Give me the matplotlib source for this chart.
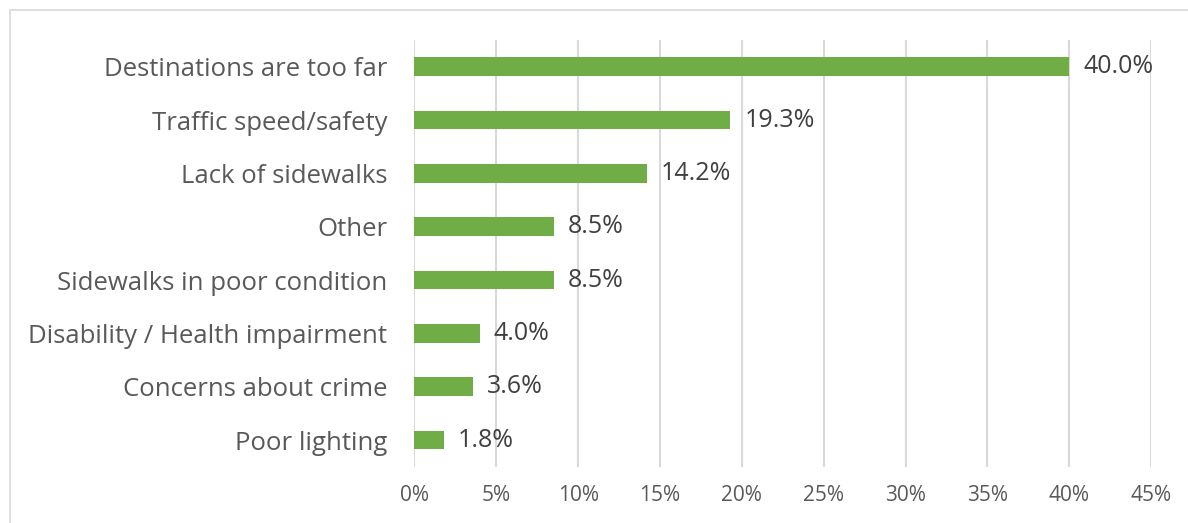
import matplotlib.pyplot as plt
from matplotlib.patches import Rectangle
from matplotlib.ticker import FuncFormatter

categories = [
    "Destinations are too far",
    "Traffic speed/safety",
    "Lack of sidewalks",
    "Other",
    "Sidewalks in poor condition",
    "Disability / Health impairment",
    "Concerns about crime",
    "Poor lighting",
]
shares = [40.0, 19.3, 14.2, 8.5, 8.5, 4.0, 3.6, 1.8]
x_ticks = [0, 5, 10, 15, 20, 25, 30, 35, 40, 45]

plt.rcParams['font.family'] = ['Open Sans', 'DejaVu Sans']

fig = plt.figure(figsize=(11.88, 5.23), dpi=100)

# light outer frame of the chart area
fig.patches.append(Rectangle((10 / 1188, -0.1), 1.2, 1 - 10 / 523 + 0.1,
                             transform=fig.transFigure, fill=False,
                             edgecolor='#d9d9d9', linewidth=1.2))

ax = fig.add_axes([0.3489, 0.1076, 0.6200, 0.8159])

pos = list(range(len(categories)))
ax.barh(pos, shares, height=0.35, color='#70ad47', zorder=3)

for y, v in zip(pos, shares):
    ax.annotate(f"{v:.1f}%", (v, y), xytext=(10, 0), textcoords='offset points',
                va='center', ha='left', fontsize=18, color='#404040')

ax.set_ylim(len(categories) - 0.5, -0.5)
ax.set_yticks(pos)
ax.set_yticklabels(categories, fontsize=18.5, color='#595959')

ax.set_xlim(0, 45)
ax.set_xticks(x_ticks)
ax.xaxis.set_major_formatter(FuncFormatter(lambda v, _: f"{v:.0f}%"))
ax.tick_params(axis='x', labelsize=15, labelcolor='#595959', length=0, pad=13)
ax.tick_params(axis='y', length=0, pad=19.5)

ax.grid(axis='x', color='#d9d9d9', linewidth=1.5, zorder=0)
for side in ['top', 'right', 'bottom', 'left']:
    ax.spines[side].set_visible(False)

fig.savefig('out.png', dpi=100)
